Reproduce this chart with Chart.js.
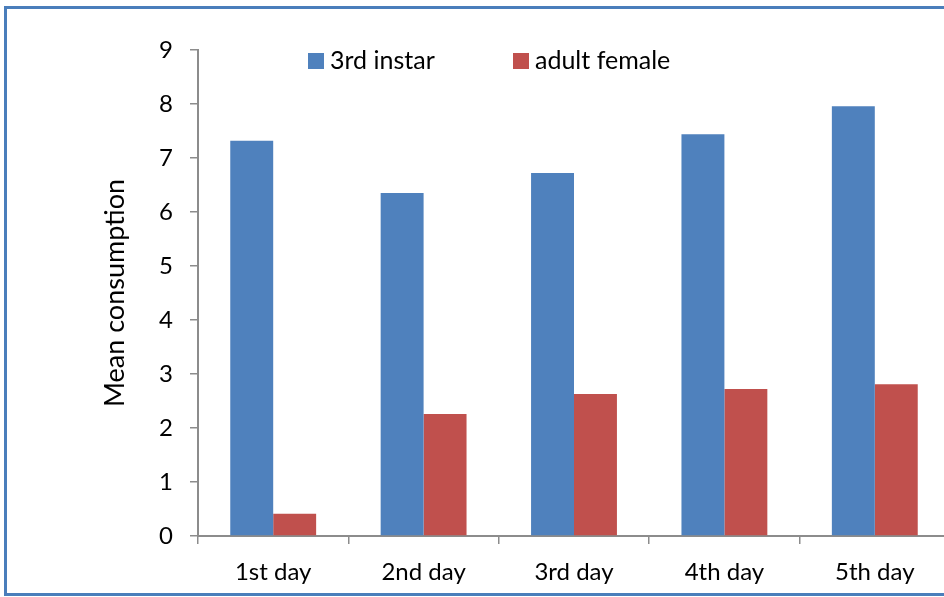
<!DOCTYPE html>
<html lang="en">
  <head>
    <meta charset="UTF-8" />
    <title>Mean consumption</title>
    <script src="https://cdn.jsdelivr.net/npm/chart.js@4.4.0/dist/chart.umd.min.js"></script>
    <style>
      body {
        margin: 0;
        background: #fff;
        overflow: hidden;
        width: 944px;
        height: 597px;
      }
      .frame {
        position: absolute;
        left: 4px;
        top: 6px;
        width: 970px;
        height: 584px;
        border: 3px solid #4a7ebb;
      }
      canvas {
        position: absolute;
        left: 0;
        top: 0;
      }
    </style>
  </head>
  <body>
    <div class="frame">
      <canvas id="chart" width="953" height="584"></canvas>
    </div>

    <script>
      const days = ["1st day", "2nd day", "3rd day", "4th day", "5th day"];
      const instar3 = [7.32, 6.35, 6.72, 7.44, 7.96];
      const adultFemale = [0.41, 2.26, 2.63, 2.72, 2.81];
      const seriesNames = ["3rd instar", "adult female"];
      const seriesColors = ["#4f81bd", "#c0504d"];

      const font = "Lato, 'Liberation Sans', sans-serif";
      const axisColor = "#8c8c8c";

      // legend drawn inside the plot, like the original
      const legendPlugin = {
        id: "insideLegend",
        afterDraw(chart) {
          const ctx = chart.ctx;
          const pos = [301, 506];
          ctx.save();
          ctx.font = "25px " + font;
          ctx.textBaseline = "middle";
          chart.data.datasets.forEach((ds, i) => {
            ctx.fillStyle = ds.backgroundColor;
            ctx.fillRect(pos[i], 44, 16, 16);
            ctx.fillStyle = "#000";
            ctx.fillText(ds.label, pos[i] + 22, 52);
          });
          ctx.restore();
        },
      };

      new Chart(document.getElementById("chart"), {
        type: "bar",
        data: {
          labels: days,
          datasets: [
            { label: seriesNames[0], data: instar3, backgroundColor: seriesColors[0] },
            { label: seriesNames[1], data: adultFemale, backgroundColor: seriesColors[1] },
          ],
        },
        options: {
          responsive: false,
          animation: false,
          layout: { padding: { top: 41, right: 10, left: 0, bottom: 0 } },
          categoryPercentage: 0.571,
          barPercentage: 1,
          plugins: {
            legend: { display: false },
            tooltip: { enabled: false },
          },
          scales: {
            x: {
              grid: {
                offset: true,
                drawOnChartArea: false,
                tickLength: 8,
                color: axisColor,
                lineWidth: 1.5,
              },
              border: { color: axisColor, width: 2 },
              ticks: {
                color: "#000",
                padding: 14,
                maxRotation: 0,
                autoSkip: false,
                font: { family: font, size: 24 },
              },
              afterFit(s) {
                s.height = 57;
              },
            },
            y: {
              min: 0,
              max: 9,
              ticks: {
                stepSize: 1,
                color: "#000",
                padding: 17,
                font: { family: font, size: 24 },
              },
              grid: {
                drawOnChartArea: false,
                tickLength: 8,
                color: axisColor,
                lineWidth: 1.5,
              },
              border: { color: axisColor, width: 2 },
              title: {
                display: true,
                text: "Mean consumption",
                color: "#000",
                font: { family: font, size: 27 },
                padding: { top: 92, bottom: 0 },
              },
              afterFit(s) {
                s.width = 191;
              },
            },
          },
        },
        plugins: [legendPlugin],
      });
    </script>
  </body>
</html>
